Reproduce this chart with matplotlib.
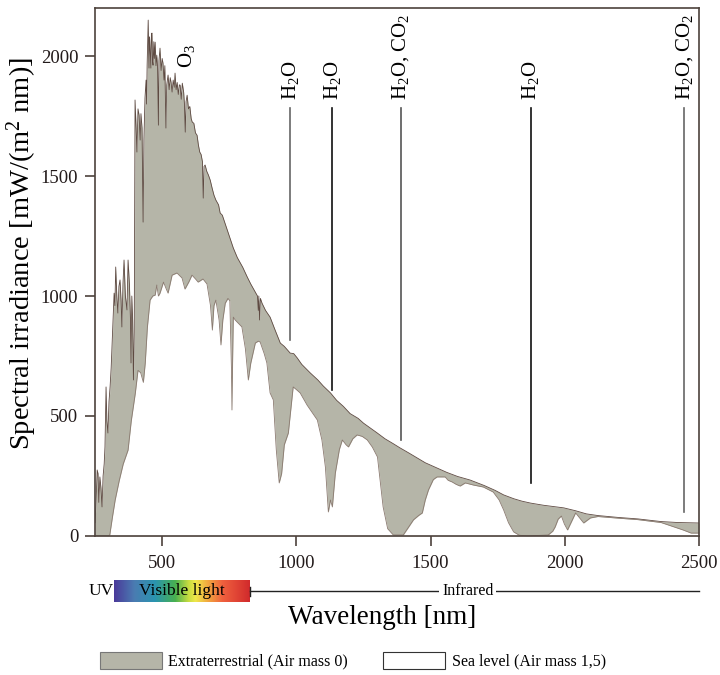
import numpy as np
import matplotlib
matplotlib.use("Agg")
import matplotlib.pyplot as plt
from matplotlib.colors import LinearSegmentedColormap
from matplotlib.patches import Patch

plt.rcParams['font.family'] = ['Liberation Serif', 'DejaVu Serif']
plt.rcParams['mathtext.fontset'] = 'custom'
plt.rcParams['mathtext.rm'] = 'Liberation Serif'
plt.rcParams['mathtext.it'] = 'Liberation Serif:italic'

# extraterrestrial spectrum (AM0)
ext_wl = [250, 254, 258, 261, 264, 268, 272, 276, 280, 284, 287, 291, 294, 298, 302, 306, 310, 313,
          317, 321, 324, 327, 331, 335, 339, 343, 347, 350, 354, 358, 363, 369, 373, 378, 382, 384,
          387, 390, 393, 396, 399, 403, 406, 410, 414, 418, 421, 425, 429, 432, 436, 440, 442, 444,
          446, 448, 451, 453, 455, 458, 460, 462, 464, 466, 469, 471, 474, 477, 480, 483, 486, 488,
          492, 496, 500, 503, 507, 510, 514, 517, 522, 526, 530, 533, 537, 541, 545, 548, 552, 556,
          560, 564, 567, 571, 575, 580, 583, 586, 589, 593, 598, 603, 608, 612, 618, 624, 630, 635,
          640, 645, 650, 653, 656, 660, 666, 672, 679, 686, 693, 700, 710, 716, 724, 735, 750, 765,
          780, 800, 817, 830, 845, 855, 858, 860, 863, 866, 872, 885, 902, 920, 940, 955, 977, 990,
          1003, 1020, 1052, 1080, 1100, 1127, 1150, 1175, 1200, 1230, 1250, 1275, 1300, 1330, 1360,
          1386, 1420, 1450, 1480, 1524, 1560, 1600, 1647, 1700, 1740, 1772, 1810, 1840, 1872, 1920,
          1960, 1996, 2040, 2080, 2123, 2200, 2272, 2358, 2420, 2500]
ext_val = [55, 150, 275, 260, 140, 246, 200, 121, 250, 300, 371, 621, 480, 429, 560, 621, 700, 788,
           900, 1012, 960, 1121, 1000, 929, 1040, 1067, 980, 871, 1050, 1150, 1000, 942, 1150, 1050, 900, 721,
           1000, 900, 650, 850, 1817, 1700, 1600, 1780, 1754, 1650, 1760, 1700, 1308, 1650, 1825, 1900, 1800, 1962,
           2050, 2150, 1950, 2080, 2033, 1950, 2090, 2096, 1980, 1962, 2060, 1990, 2058, 1960, 2004, 1950, 1712, 1980,
           2033, 1940, 1990, 1971, 1900, 1960, 1700, 1880, 1921, 1860, 1910, 1892, 1850, 1900, 1870, 1929, 1860, 1890,
           1840, 1880, 1879, 1820, 1887, 1850, 1800, 1683, 1810, 1837, 1780, 1790, 1740, 1725, 1720, 1680, 1670, 1629,
           1600, 1590, 1560, 1408, 1540, 1546, 1520, 1505, 1483, 1450, 1420, 1400, 1380, 1346, 1337, 1300, 1250, 1200,
           1160, 1120, 1079, 1050, 1020, 1000, 940, 1000, 900, 990, 970, 940, 912, 860, 804, 790, 762, 760,
           742, 715, 679, 650, 625, 596, 565, 540, 510, 490, 470, 450, 430, 405, 385,
           367, 345, 325, 305, 283, 265, 248, 233, 210, 190, 171, 155, 145, 137, 128,
           122, 117, 105, 92, 85, 77, 71, 60, 56, 54]

# sea level spectrum (AM1.5)
sea_wl = [250, 300, 305, 315, 325, 340, 355, 373, 385, 400, 410, 420, 430, 437, 445, 455, 465, 474,
          480, 486, 492, 505, 515, 522, 537, 555, 574, 585, 600, 611, 625, 634, 652, 667, 680, 687,
          693, 700, 712, 719, 726, 735, 745, 752, 758, 760, 762, 765, 772, 797, 810, 821, 830, 847,
          858, 865, 880, 890, 902, 914, 925, 936, 945, 955, 970, 988, 1000, 1014, 1040, 1078, 1095, 1108,
          1119, 1127, 1134, 1145, 1160, 1171, 1185, 1194, 1210, 1226, 1245, 1264, 1283, 1302, 1323, 1340,
          1361, 1398, 1420, 1436, 1455, 1469, 1480, 1492, 1510, 1524, 1554, 1565, 1580, 1595, 1610, 1629,
          1660, 1696, 1733, 1755, 1772, 1790, 1809, 1830, 1860, 1938, 1955, 1964, 1975, 1987, 1998, 2010,
          2025, 2040, 2055, 2070, 2095, 2123, 2200, 2272, 2358, 2395, 2440, 2470, 2500]
sea_val = [0, 0, 5, 80, 150, 230, 300, 358, 480, 595, 690, 680, 640, 720, 870, 983, 1000, 1004,
           1046, 1000, 1012, 1058, 1030, 1012, 1087, 1096, 1075, 1029, 1060, 1087, 1070, 1058, 1071, 1050, 960, 858,
           960, 983, 900, 796, 900, 970, 990, 980, 700, 525, 700, 912, 900, 871, 780, 650, 720, 804,
           812, 808, 760, 721, 596, 567, 360, 221, 260, 380, 429, 621, 610, 596, 545, 483, 400, 287,
           100, 150, 121, 262, 360, 400, 380, 371, 405, 421, 415, 400, 370, 329, 121, 30,
           4, 4, 40, 67, 85, 96, 150, 192, 235, 246, 246, 232, 225, 215, 208, 221,
           212, 204, 183, 150, 108, 55, 17, 3, 0, 4, 20, 38, 70, 83, 50, 25,
           60, 96, 75, 54, 75, 81, 74, 68, 56, 42, 25, 12, 12]

# absorption bands
band_wl = [977, 1134, 1388, 1873, 2444]
band_end = [817, 608, 400, 221, 100]
band_labels = ['H$_2$O', 'H$_2$O', 'H$_2$O, CO$_2$', 'H$_2$O', 'H$_2$O, CO$_2$']
band_colors = ['#666666', '#111111', '#555555', '#111111', '#666666']

xticks = [500, 1000, 1500, 2000, 2500]
yticks = [0, 500, 1000, 1500, 2000]

gray = '#b5b5a8'
spine = '#4d423c'

fig = plt.figure(figsize=(7.2, 6.75), dpi=100)
ax = fig.add_axes([0.132, 0.206, 0.839, 0.782])

ax.fill_between(ext_wl, ext_val, 0, color=gray, lw=0)
ax.fill_between(sea_wl, sea_val, 0, color='white', lw=0)
ax.plot(ext_wl, ext_val, color='#5e4a42', lw=0.6)
ax.plot(sea_wl, sea_val, color='#8a7a70', lw=0.6)

ax.text(590, 1950, 'O$_3$', rotation=90, ha='center', va='bottom', fontsize=15)
for w, e, lab, c in zip(band_wl, band_end, band_labels, band_colors):
    ax.plot([w, w], [1783, e], color=c, lw=1.2)
    ax.text(w, 1815, lab, rotation=90, ha='center', va='bottom', fontsize=15)

ax.set_xlim(250, 2500)
ax.set_ylim(0, 2200)
ax.set_xticks(xticks)
ax.set_yticks(yticks)
ax.tick_params(direction='out', length=7, width=1.2, color=spine, labelsize=13.5,
               labelcolor='#221a1a')
ax.tick_params(axis='y', pad=5)
ax.tick_params(axis='x', pad=7)
for s in ax.spines.values():
    s.set_color(spine)
    s.set_linewidth(1.2)

ax.set_ylabel('Spectral irradiance [mW/(m$^2$ nm)]', fontsize=20.5)
ax.yaxis.set_label_coords(-0.092, 0.535)
ax.set_xlabel('Wavelength [nm]', fontsize=19.5)
ax.xaxis.set_label_coords(0.476, -0.13)

# spectrum bar below the axis
cmap = LinearSegmentedColormap.from_list('vis', [(0.0, '#4b3a9a'), (0.15, '#4a7cb2'), (0.3, '#2a94b0'),
                                                 (0.45, '#48b050'), (0.55, '#c8dc40'), (0.6, '#eee84a'),
                                                 (0.7, '#f2a23e'), (0.8, '#f0603e'), (1.0, '#d12a2c')])
tr = ax.get_xaxis_transform()
ax.imshow(np.linspace(0, 1, 256)[None, :], cmap=cmap, aspect='auto',
          extent=[322, 828, -0.125, -0.085], transform=tr, clip_on=False)
ax.text(572, -0.105, 'Visible light', transform=tr, ha='center', va='center', fontsize=12.5)
ax.text(318, -0.105, 'UV', transform=tr, ha='right', va='center', fontsize=12.5)
ax.plot([828, 2500], [-0.105, -0.105], transform=tr, clip_on=False, color='#222222', lw=1)
ax.plot([828, 828], [-0.097, -0.113], transform=tr, clip_on=False, color='#222222', lw=1)
ax.text(1638, -0.105, 'Infrared', transform=tr, ha='center', va='center', fontsize=11.5,
        bbox=dict(facecolor='white', edgecolor='none', pad=2))
ax.set_xlim(250, 2500)
ax.set_ylim(0, 2200)

handles = [Patch(facecolor=gray, edgecolor='#777777', lw=0.8),
           Patch(facecolor='white', edgecolor='#333333', lw=0.8)]
fig.legend(handles, ['Extraterrestrial (Air mass 0)', 'Sea level (Air mass 1,5)'],
           loc='center', bbox_to_anchor=(0.49, 0.021), ncol=2, frameon=False, fontsize=11.5,
           handlelength=3.9, handleheight=1.25, columnspacing=2.2, handletextpad=0.4)

fig.savefig('out.png', dpi=100)
